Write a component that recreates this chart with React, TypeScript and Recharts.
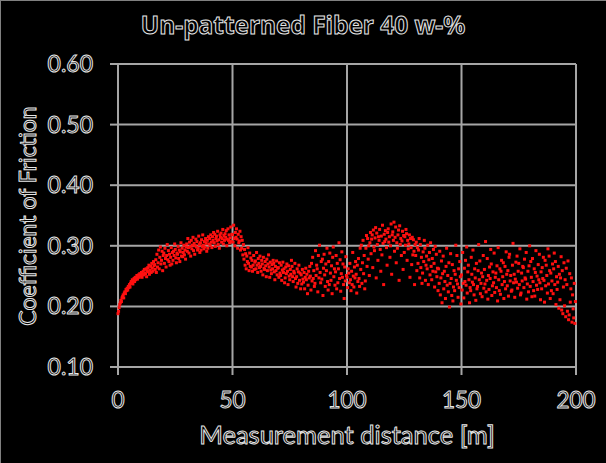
import React from 'react';
import { ScatterChart, Scatter, XAxis, YAxis, CartesianGrid, Customized } from 'recharts';

const title = 'Un-patterned Fiber 40 w-%';
const xTitle = 'Measurement distance [m]';
const yTitle = 'Coefficient of Friction';
const xTicks = [0, 50, 100, 150, 200];
const yTicks = [0.1, 0.2, 0.3, 0.4, 0.5, 0.6];
const sampleStep = 0.25; // metres between samples

// Coefficient of friction readings, 40 samples per 10 m block
const cof000 = [0.188,0.192,0.198,0.203,0.206,0.210,0.208,0.214,0.216,0.219,0.214,0.222,0.224,0.221,0.228,0.226,0.230,0.227,0.233,0.231,0.236,0.232,0.238,0.241,0.239,0.244,0.237,0.242,0.246,0.241,0.248,0.244,0.247,0.251,0.245,0.249,0.252,0.248,0.254,0.250];
const cof010 = [0.251,0.256,0.248,0.253,0.258,0.252,0.261,0.255,0.254,0.262,0.249,0.259,0.264,0.257,0.268,0.253,0.260,0.266,0.256,0.271,0.263,0.258,0.274,0.267,0.269,0.261,0.277,0.256,0.286,0.265,0.272,0.293,0.262,0.281,0.298,0.270,0.276,0.291,0.259,0.284];
const cof020 = [0.288,0.271,0.296,0.279,0.265,0.284,0.302,0.277,0.292,0.274,0.286,0.268,0.281,0.297,0.270,0.289,0.276,0.291,0.284,0.303,0.294,0.280,0.272,0.288,0.286,0.299,0.279,0.293,0.274,0.290,0.305,0.283,0.296,0.282,0.289,0.301,0.285,0.293,0.278,0.298];
const cof030 = [0.303,0.291,0.312,0.297,0.288,0.306,0.299,0.283,0.309,0.295,0.301,0.314,0.292,0.304,0.286,0.300,0.311,0.298,0.307,0.293,0.296,0.316,0.302,0.289,0.305,0.293,0.310,0.299,0.318,0.301,0.295,0.307,0.298,0.312,0.304,0.291,0.309,0.296,0.315,0.303];
const cof040 = [0.312,0.301,0.318,0.306,0.297,0.315,0.309,0.322,0.305,0.319,0.299,0.312,0.316,0.308,0.324,0.302,0.310,0.296,0.318,0.314,0.321,0.306,0.312,0.327,0.303,0.317,0.309,0.320,0.314,0.325,0.300,0.311,0.328,0.309,0.318,0.305,0.313,0.331,0.307,0.319];
const cof050 = [0.318,0.306,0.334,0.312,0.300,0.322,0.314,0.328,0.311,0.296,0.319,0.305,0.308,0.324,0.293,0.315,0.296,0.309,0.285,0.302,0.278,0.294,0.268,0.287,0.262,0.283,0.274,0.297,0.271,0.259,0.288,0.266,0.280,0.265,0.276,0.258,0.268,0.284,0.261,0.273];
const cof060 = [0.275,0.262,0.289,0.268,0.256,0.279,0.271,0.264,0.283,0.266,0.258,0.276,0.270,0.252,0.281,0.263,0.261,0.274,0.267,0.249,0.278,0.259,0.270,0.285,0.265,0.248,0.273,0.260,0.254,0.269,0.262,0.276,0.271,0.257,0.244,0.266,0.259,0.275,0.252,0.263];
const cof070 = [0.264,0.248,0.272,0.255,0.251,0.268,0.243,0.260,0.273,0.256,0.262,0.239,0.247,0.265,0.254,0.270,0.258,0.236,0.267,0.250,0.244,0.261,0.253,0.276,0.266,0.249,0.241,0.258,0.255,0.271,0.246,0.232,0.249,0.262,0.238,0.257,0.268,0.243,0.255,0.229];
const cof080 = [0.252,0.237,0.261,0.245,0.240,0.256,0.229,0.248,0.263,0.244,0.253,0.221,0.235,0.258,0.247,0.266,0.250,0.227,0.271,0.242,0.281,0.246,0.259,0.233,0.238,0.292,0.251,0.268,0.262,0.224,0.284,0.247,0.301,0.256,0.239,0.274,0.245,0.278,0.218,0.263];
const cof090 = [0.286,0.252,0.233,0.270,0.259,0.296,0.241,0.227,0.274,0.236,0.288,0.255,0.243,0.267,0.221,0.281,0.298,0.249,0.262,0.235,0.257,0.284,0.229,0.271,0.239,0.262,0.305,0.246,0.277,0.225,0.254,0.290,0.248,0.270,0.236,0.213,0.265,0.242,0.282,0.251];
const cof100 = [0.248,0.231,0.262,0.255,0.239,0.271,0.244,0.226,0.258,0.236,0.289,0.250,0.232,0.265,0.247,0.274,0.253,0.222,0.268,0.241,0.279,0.246,0.233,0.296,0.261,0.301,0.238,0.272,0.309,0.254,0.284,0.229,0.242,0.296,0.317,0.266,0.312,0.278,0.300,0.251];
const cof110 = [0.305,0.322,0.287,0.311,0.318,0.264,0.326,0.298,0.292,0.313,0.330,0.247,0.321,0.302,0.276,0.315,0.309,0.327,0.294,0.258,0.316,0.285,0.334,0.304,0.236,0.319,0.307,0.325,0.311,0.297,0.268,0.322,0.328,0.306,0.315,0.281,0.300,0.336,0.253,0.318];
const cof120 = [0.323,0.309,0.339,0.291,0.314,0.331,0.272,0.305,0.296,0.318,0.326,0.243,0.333,0.302,0.312,0.284,0.308,0.324,0.261,0.317,0.289,0.315,0.301,0.327,0.320,0.276,0.309,0.295,0.303,0.318,0.248,0.312,0.297,0.269,0.314,0.285,0.310,0.291,0.236,0.302];
const cof130 = [0.284,0.306,0.259,0.297,0.271,0.293,0.312,0.247,0.302,0.264,0.281,0.238,0.255,0.290,0.274,0.309,0.296,0.243,0.268,0.283,0.262,0.301,0.236,0.277,0.289,0.252,0.305,0.266,0.244,0.279,0.258,0.294,0.271,0.232,0.299,0.257,0.286,0.249,0.263,0.226];
const cof140 = [0.262,0.238,0.291,0.219,0.247,0.275,0.206,0.254,0.283,0.229,0.258,0.241,0.213,0.266,0.296,0.235,0.251,0.224,0.272,0.199,0.238,0.287,0.246,0.218,0.269,0.209,0.232,0.259,0.226,0.253,0.301,0.243,0.284,0.237,0.215,0.262,0.231,0.274,0.249,0.204];
const cof150 = [0.252,0.227,0.289,0.238,0.214,0.263,0.241,0.276,0.235,0.298,0.222,0.257,0.268,0.244,0.206,0.231,0.226,0.281,0.253,0.240,0.293,0.236,0.219,0.262,0.247,0.210,0.271,0.229,0.233,0.259,0.302,0.244,0.275,0.221,0.238,0.255,0.216,0.249,0.284,0.230];
const cof160 = [0.261,0.237,0.307,0.224,0.243,0.279,0.212,0.251,0.228,0.265,0.246,0.294,0.270,0.218,0.234,0.257,0.239,0.288,0.223,0.248,0.255,0.231,0.267,0.209,0.297,0.244,0.226,0.262,0.220,0.258,0.276,0.236,0.249,0.272,0.213,0.241,0.266,0.229,0.290,0.253];
const cof170 = [0.234,0.259,0.217,0.281,0.286,0.242,0.251,0.225,0.227,0.268,0.304,0.239,0.253,0.215,0.245,0.273,0.240,0.283,0.230,0.258,0.271,0.236,0.295,0.219,0.222,0.255,0.242,0.266,0.264,0.231,0.278,0.247,0.245,0.289,0.212,0.237,0.258,0.224,0.267,0.300];
const cof180 = [0.233,0.274,0.248,0.216,0.279,0.241,0.226,0.262,0.217,0.256,0.292,0.235,0.250,0.228,0.269,0.244,0.286,0.239,0.211,0.257,0.229,0.264,0.246,0.281,0.243,0.207,0.276,0.234,0.268,0.251,0.222,0.295,0.237,0.283,0.259,0.213,0.255,0.226,0.242,0.270];
const cof190 = [0.221,0.262,0.288,0.236,0.274,0.203,0.249,0.228,0.240,0.266,0.197,0.253,0.211,0.247,0.282,0.194,0.259,0.188,0.232,0.272,0.201,0.244,0.183,0.263,0.236,0.192,0.275,0.178,0.186,0.254,0.207,0.229,0.247,0.174,0.219,0.196,0.181,0.238,0.172,0.208];

const blocks = [cof000, cof010, cof020, cof030, cof040, cof050, cof060, cof070, cof080, cof090,
  cof100, cof110, cof120, cof130, cof140, cof150, cof160, cof170, cof180, cof190];

const data = blocks.flatMap((block, b) =>
  block.map((v, i) => ({ dist: b * 10 + i * sampleStep, cof: v }))
);

const outline = { fill: '#000000', stroke: '#e6e6e6', strokeWidth: 1 };
const FONT = 'Lato, "Open Sans", sans-serif';
const TITLE_FONT = '"Open Sans", Lato, sans-serif';

const XTick = (props: any) => {
  const { x, y, payload } = props;
  return (
    <text x={x} y={y + 33} textAnchor="middle" fontFamily={FONT} fontSize={22.5} {...outline}>
      {payload.value}
    </text>
  );
};

const YTick = (props: any) => {
  const { x, y, payload } = props;
  return (
    <text x={x} y={y + 8} textAnchor="end" fontFamily={FONT} fontSize={23} {...outline}>
      {Number(payload.value).toFixed(2)}
    </text>
  );
};

const Titles = () => (
  <g>
    <text x={303} y={34} textAnchor="middle" fontFamily={TITLE_FONT} fontWeight={700} fontSize={24.4} {...outline}>
      {title}
    </text>
    <text x={347} y={444} textAnchor="middle" fontFamily={FONT} fontSize={25.5} {...outline}>
      {xTitle}
    </text>
    <text x={36} y={216} transform="rotate(-90 36 216)" textAnchor="middle" fontFamily={FONT} fontSize={23} {...outline}>
      {yTitle}
    </text>
  </g>
);

const Dot = (props: any) => {
  const { cx, cy } = props;
  if (cx == null || cy == null) return null;
  return <rect x={cx - 1.5} y={cy - 1.5} width={3} height={3} fill="#ff1010" />;
};

export default function App() {
  return (
    <div style={{ position: 'absolute', left: 0, top: 0, width: 606, height: 463, background: '#000' }}>
      <ScatterChart width={606} height={463} margin={{ top: 64, right: 30, bottom: 0, left: 0 }}>
        <CartesianGrid stroke="#a6a6a6" strokeWidth={2} horizontalValues={yTicks} verticalValues={xTicks} />
        <XAxis
          type="number"
          dataKey="dist"
          domain={[0, 200]}
          ticks={xTicks}
          height={96}
          axisLine={{ stroke: '#a6a6a6', strokeWidth: 2 }}
          tickLine={{ stroke: '#a6a6a6', strokeWidth: 2 }}
          tickSize={8}
          tickMargin={0}
          tick={<XTick />}
          interval={0}
        />
        <YAxis
          type="number"
          dataKey="cof"
          domain={[0.1, 0.6]}
          ticks={yTicks}
          width={118}
          axisLine={{ stroke: '#a6a6a6', strokeWidth: 2 }}
          tickLine={{ stroke: '#a6a6a6', strokeWidth: 2 }}
          tickSize={8}
          tickMargin={17}
          tick={<YTick />}
          interval={0}
        />
        <Scatter data={data} shape={<Dot />} isAnimationActive={false} />
        <Customized component={Titles} />
      </ScatterChart>
      <div style={{ position: 'absolute', left: 0, top: 0, width: 606, height: 463, boxSizing: 'border-box', borderTop: '1px solid #808080', borderLeft: '1px solid #808080', pointerEvents: 'none' }} />
    </div>
  );
}
